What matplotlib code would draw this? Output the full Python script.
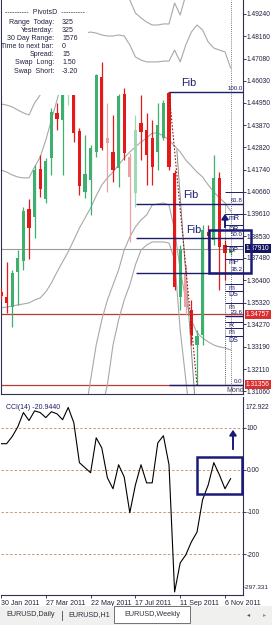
import matplotlib.pyplot as plt
import numpy as np
from matplotlib.patches import Rectangle, FancyArrowPatch
from matplotlib.lines import Line2D

plt.rcParams["font.family"] = ["Liberation Sans", "DejaVu Sans"]

W, H = 272, 625
NAVY = "#1c1c6a"
TXT = "#202040"

# ---- weekly EURUSD bars (bar 0 = week of 30 Jan 2011) ----
opens = [1.3584, 1.3559, 1.3511, 1.3680, 1.3733, 1.3984, 1.3945, 1.4177, 1.4032, 1.4230,
         1.4447, 1.4413, 1.4570, 1.4830, 1.4360, 1.4066, 1.4124, 1.4259, 1.4620, 1.4326,
         1.4259, 1.4181, 1.4538, 1.4235, 1.4061, 1.4398, 1.4365, 1.4326, 1.4259, 1.4326,
         1.4543, 1.4157, 1.3559, 1.3675, 1.3497, 1.3328, 1.3376, 1.3873, 1.3834, 1.4133,
         1.3810, 1.3772]
highs = [1.3603, 1.3728, 1.3690, 1.3786, 1.3993, 1.4032, 1.4196, 1.4244, 1.4230, 1.4471,
         1.4495, 1.4600, 1.4850, 1.4940, 1.4374, 1.4341, 1.4292, 1.4635, 1.4693, 1.4495,
         1.4437, 1.4538, 1.4567, 1.4254, 1.4437, 1.4533, 1.4447, 1.4413, 1.4495, 1.4509,
         1.4548, 1.4172, 1.3810, 1.3714, 1.3545, 1.3400, 1.3907, 1.3907, 1.4244, 1.4162,
         1.3834, 1.3796]
lows = [1.3545, 1.3482, 1.3415, 1.3521, 1.3690, 1.3743, 1.3844, 1.4042, 1.4013, 1.4148,
        1.4365, 1.4148, 1.4485, 1.4307, 1.4051, 1.4037, 1.3955, 1.4235, 1.4268, 1.4066,
        1.4114, 1.4090, 1.4220, 1.3825, 1.3993, 1.4220, 1.4100, 1.4100, 1.4172, 1.4316,
        1.4172, 1.3593, 1.3497, 1.3472, 1.3328, 1.3136, 1.3328, 1.3786, 1.3810, 1.3593,
        1.3641, 1.3762]
closes = [1.3564, 1.3531, 1.3675, 1.3748, 1.3974, 1.3892, 1.4172, 1.4080, 1.4215, 1.4451,
          1.4418, 1.4570, 1.4830, 1.4350, 1.4095, 1.4153, 1.4278, 1.4630, 1.4278, 1.4302,
          1.4172, 1.4529, 1.4254, 1.4138, 1.4365, 1.4355, 1.4244, 1.4186, 1.4389, 1.4495,
          1.4186, 1.3608, 1.3786, 1.3511, 1.3376, 1.3371, 1.3883, 1.3854, 1.4133, 1.3800,
          1.3772, 1.3791]

# ---- band lines (None = off the visible chart) ----
mid_band = [1.3507, 1.3511, 1.3516, 1.3521, 1.3526, 1.3531, 1.3545, 1.3555, 1.3584, 1.3627,
            1.3680, 1.3729, 1.3777, 1.3834, 1.3892, 1.3940, 1.3989, 1.4047, 1.4100, 1.4134,
            1.4162, 1.4196, 1.4230, 1.4259, 1.4283, 1.4307, 1.4326, 1.4350, 1.4350, 1.4336,
            1.4316, 1.4288, 1.4259, 1.4220, 1.4191, 1.4162, 1.4138, 1.4100, 1.4066, 1.4037,
            1.4013, 1.3974]
upper1 = [1.4172, 1.4162, 1.4148, 1.4138, 1.4134, 1.4134, 1.4186, 1.4235, 1.4316, 1.4413,
          1.4509, 1.4606, 1.4702, 1.4775, 1.4818, 1.4832, 1.4837, 1.4832, 1.4823, 1.4818,
          1.4818, 1.4823, 1.4818, 1.4775, 1.4717, 1.4702, 1.4693, 1.4693, 1.4693, 1.4697,
          1.4697, 1.4750, 1.4693, 1.4775, 1.4837, 1.4871, 1.4847, 1.4789, 1.4760, 1.4750,
          1.4741, 1.4664]
upper2 = [1.4490, 1.4485, 1.4476, 1.4461, 1.4447, 1.4437, 1.4495, 1.4534, 1.4702, 1.4919,
          1.5088, None, None, None, None, None, None, None, None, None,
          None, None, 1.5100, 1.4992, 1.4929, 1.4905, 1.4885, 1.4871, 1.4871, 1.4876,
          1.4876, 1.4977, 1.4919, 1.5016, None, None, None, None, None, None,
          None, None]
lower1 = [None, None, None, None, None, None, None, None, None, None,
          None, None, None, None, None, 1.2990, 1.3160, 1.3328, 1.3449, 1.3545,
          1.3618, 1.3690, 1.3786, 1.3849, 1.3897, 1.3931, 1.3955, 1.4003, 1.4008, 1.4013,
          1.4003, 1.3883, 1.3690, 1.3545, 1.3449, 1.3386, 1.3362, 1.3343, 1.3328, 1.3319,
          1.3314, 1.3304]
lower2 = [None, None, None, None, None, None, None, None, None, None,
          None, None, None, None, None, None, None, 1.2900, 1.3015, 1.3136,
          1.3328, 1.3449, 1.3545, 1.3618, 1.3714, 1.3786, 1.3810, 1.3825, 1.3825, 1.3825,
          1.3820, 1.3738, 1.3400, 1.3160, 1.2919, None, None, None, None, None,
          None, None]

# ---- CCI(14) ----
cci = [62, 62, 79, 102, 136, 117, 140, 136, 124, 138,
       133, 119, 148, 112, 17, 5, -7, 76, 52, -19,
       -45, 12, -17, -102, -36, 12, -31, -31, 64, 81,
       12, -290, -221, -202, -171, -148, -71, -36, 17, -12,
       -45, -20.944]

price_ticks = [1.49240, 1.48160, 1.47080, 1.46030, 1.44950, 1.43870, 1.42820, 1.41740,
               1.40660, 1.39610, 1.38530, 1.37480, 1.36400, 1.35320, 1.34270, 1.33190,
               1.32110, 1.31060]
bid_price = 1.37910
red_lines = [1.34757, 1.31356]
cci_ticks = [100, 0, -100, -200]
cci_max, cci_min = 172.922, -297.331
date_bars = [0, 8, 16, 24, 32, 40]
date_labels = ["30 Jan 2011", "27 Mar 2011", "22 May 2011", "17 Jul 2011",
               "11 Sep 2011", "6 Nov 2011"]
fib_high, fib_low = 1.4548, 1.31356
fib_levels = [100.0, 61.8, 50.0, 38.2, 23.6, 0.0]
pivots_rows = [("Range  Today:", "325"), ("Yesterday:", "325"), ("30 Day Range:", "1576"),
               ("Time to next bar:", "0"), ("Spread:", "15"), ("Swap  Long:", "1.50"),
               ("Swap  Short:", "-3.20")]


def fx(x):
    return x / W


def fy(y):
    return 1 - y / H


fig = plt.figure(figsize=(W / 100, H / 100), dpi=100)
fig.patch.set_facecolor("white")

bar_px = 5.6
ax = fig.add_axes([fx(1), fy(394), 242 / W, 394 / H])
ax2 = fig.add_axes([fx(1), fy(595), 242 / W, 198 / H])
xmax = 242 / bar_px
ylo, yhi = 1.30918, 1.49915
LAB = 4.8

# ---------------- price panel ----------------
x = np.arange(len(opens))
o, h, l, c = map(np.array, (opens, highs, lows, closes))
faded = {12, 19, 23, 24, 33}
for i in x:
    up = c[i] >= o[i]
    if i in faded:
        col = "#9fd8b4" if up else "#eea0a0"
    else:
        col = "#3cb06c" if up else "#e41a1a"
    ax.vlines(i, l[i], h[i], color=col, lw=0.9, zorder=3)
    lo_b, hi_b = min(o[i], c[i]), max(o[i], c[i])
    ax.bar(i, max(hi_b - lo_b, 0.0004), bottom=lo_b, width=0.6, color=col,
           lw=0, zorder=4)

for band in (upper2, upper1, mid_band, lower1, lower2):
    arr = np.array([np.nan if v is None else v for v in band])
    ax.plot(x, arr, color="#a8a8a8", lw=0.8, zorder=2)

ax.axhline(bid_price, color="#9a9a9a", lw=0.8, zorder=1)
for p in red_lines:
    ax.axhline(p, color="#b83a3a", lw=0.9, zorder=1)

# fibonacci levels
rng = fib_high - fib_low
starts = {100.0: 30, 61.8: 24.1, 50.0: 24.1, 38.2: 24.1, 23.6: 40, 0.0: 30}
for lv in fib_levels:
    p = fib_low + rng * lv / 100
    ax.hlines(p, starts[lv], xmax, color=NAVY, lw=1.0, zorder=5)
    ax.text(xmax - 0.05, p + 0.0006, f"{lv:.1f}", ha="right", va="bottom",
            fontsize=4.4, color=NAVY, zorder=6)
ax.plot([30, 35], [fib_high, fib_low], color="#8b1a1a", lw=0.8, ls=(0, (1.5, 1.5)), zorder=5)
ax.plot([31.4, 34.6], [1.4268, 1.3077], color="#8a8a8a", lw=0.7, zorder=2)

for txt_x, txt_y in [(32.1, 1.4575), (32.6, 1.4035), (33.1, 1.3870)]:
    ax.text(txt_x, txt_y, "Fib", fontsize=7.8, color=NAVY, zorder=6)

# pivot marks at the right edge
ax.vlines(40.0, 1.3136, 1.4010, color="#303030", lw=0.6, ls=(0, (1, 1.5)), zorder=5)
ax.vlines(41.1, ylo, yhi, color="#505050", lw=0.6, ls=(0, (1, 1.5)), zorder=5)
piv = [(1.4066, ""), (1.3960, "mR"), (1.3905, "DR"), (1.3805, "DP"), (1.3745, "mP"),
       (1.3620, "m"), (1.3590, "DS"), (1.3530, "m"), (1.3440, "R"), (1.3410, "m"),
       (1.3370, "DS")]
for p, name in piv:
    ax.hlines(p, 40.0, xmax, color=NAVY, lw=0.7, zorder=5)
    if name:
        ax.text(40.6, p - 0.0003, name, fontsize=5.0, color=NAVY, va="top",
                clip_on=True, zorder=6)
ax.text(40.3, 1.3110, "Monday", fontsize=5.0, color="#404060", va="center",
        clip_on=True, zorder=6)

ax.set_xlim(0, xmax)
ax.set_ylim(ylo, yhi)
ax.yaxis.tick_right()
ax.set_yticks(price_ticks)
ax.set_yticklabels([f"{p:.5f}" for p in price_ticks])
ax.tick_params(axis="y", labelsize=LAB, length=2, pad=0.8, colors=TXT, width=0.6)
ax.set_xticks([])
ax.spines["top"].set_visible(False)
for s in ("left", "right", "bottom"):
    ax.spines[s].set_color("#303050")
    ax.spines[s].set_linewidth(0.8)

# highlighted price labels
for p, bg in [(bid_price, "#141460"), (red_lines[0], "#d83030"), (red_lines[1], "#d83030")]:
    ax.text(1.012, p, f"{p:.5f}", transform=ax.get_yaxis_transform(), ha="left",
            va="center", fontsize=LAB, color="white", clip_on=False, zorder=10,
            bbox=dict(boxstyle="square,pad=0.15", fc=bg, ec="none"))

# PivotsD info box
fig.add_artist(Rectangle((fx(2), fy(95)), (88 - 2) / W, 95 / H, fc="white", ec="none",
                         transform=fig.transFigure, zorder=20))
fig.text(fx(5), fy(13), "----------  PivotsD  ----------", fontsize=5.0, color=TXT,
         va="center", zorder=21)
for k, (lab, val) in enumerate(pivots_rows):
    yy = fy(22 + k * 8.2)
    fig.text(fx(54), yy, lab, fontsize=5.0, color=TXT, ha="right", va="center", zorder=21)
    fig.text(fx(62), yy, val, fontsize=5.0, color=TXT, ha="left", va="center", zorder=21)

# hand drawn annotations
box_col = "#1a1a78"
fig.add_artist(Rectangle((fx(209), fy(273)), 42 / W, 43 / H, fill=False, ec=box_col,
                         lw=1.8, transform=fig.transFigure, zorder=25))
fig.add_artist(FancyArrowPatch((fx(225), fy(230)), (fx(225), fy(211)), transform=fig.transFigure,
                               arrowstyle="-|>,head_length=3,head_width=2", color=box_col,
                               lw=1.4, zorder=25))

# ---------------- CCI panel ----------------
ax2.plot(x, cci, color="black", lw=0.8, zorder=3)
for t in cci_ticks:
    ax2.axhline(t, color="#c49a7a", lw=0.7, ls=(0, (2.5, 2)), zorder=1)
ax2.set_xlim(0, xmax)
ax2.set_ylim(cci_min, cci_max)
ax2.yaxis.tick_right()
ax2.set_yticks(cci_ticks)
ax2.set_yticklabels(["100", "0.00", "-100", "-200"])
ax2.tick_params(axis="y", labelsize=LAB, length=2, pad=0.8, colors=TXT, width=0.6)
ax2.text(1.012, 0.965, f"{cci_max:.3f}", transform=ax2.transAxes, fontsize=LAB,
         color=TXT, va="top")
ax2.text(1.004, 0.025, f"{cci_min:.3f}", transform=ax2.transAxes, fontsize=4.6,
         color=TXT, va="bottom")
ax2.text(0.02, 0.965, "CCI(14) -20.9440", transform=ax2.transAxes, fontsize=5.0,
         color=NAVY, va="top")
ax2.set_xticks(date_bars)
ax2.set_xticklabels(date_labels, ha="left")
ax2.tick_params(axis="x", labelsize=5.0, length=2, pad=1.5, colors=TXT, width=0.6)
for s in ("top", "left"):
    ax2.spines[s].set_visible(False)
for s in ("right", "bottom"):
    ax2.spines[s].set_color("#303050")
    ax2.spines[s].set_linewidth(0.8)

fig.add_artist(Rectangle((fx(197), fy(494)), 45 / W, 37 / H, fill=False, ec=box_col,
                         lw=1.8, transform=fig.transFigure, zorder=25))
fig.add_artist(FancyArrowPatch((fx(233), fy(452)), (fx(233), fy(427)), transform=fig.transFigure,
                               arrowstyle="-|>,head_length=3,head_width=2", color=box_col,
                               lw=1.4, zorder=25))

# ---------------- tab bar ----------------
fig.add_artist(Rectangle((0, 0), 1, 19 / H, fc="#f0f0ee", ec="none",
                         transform=fig.transFigure, zorder=30))
fig.add_artist(Rectangle((fx(114), fy(623)), (190 - 114) / W, 17 / H, fc="white",
                         ec="#707070", lw=0.7, transform=fig.transFigure, zorder=31))
fig.add_artist(Line2D([fx(62), fx(62)], [fy(611), fy(620)], color="#606060", lw=0.7,
                      transform=fig.transFigure, zorder=31))
for tx, name in [(6, "EURUSD,Daily"), (68, "EURUSD,H1"), (124, "EURUSD,Weekly")]:
    fig.text(fx(tx), fy(615), name, fontsize=5.2, color="#303040", va="center", zorder=32)
fig.text(fx(247), fy(615), "◂", fontsize=4.5, color="#505050", va="center", zorder=32)
fig.text(fx(263), fy(615), "▸", fontsize=4.5, color="#909090", va="center", zorder=32)

fig.savefig("out.png", dpi=100)
